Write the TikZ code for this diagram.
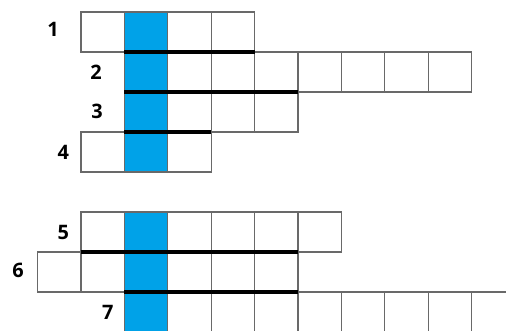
\documentclass[tikz,border=0pt]{standalone}
\usepackage{fontspec}
\setsansfont{Open Sans}
\usepackage{tikz}
\definecolor{cellblue}{RGB}{0,162,232}
\definecolor{gridgray}{RGB}{105,105,105}

\begin{document}
\begin{tikzpicture}[x=1.1483cm, y=1.0583cm,
    cell/.style={draw=gridgray, line width=0.9pt},
    keyline/.style={black, line width=3pt},
    cluenum/.style={font=\sffamily\bfseries\fontsize{15}{17}\selectfont, inner sep=0pt}]
    % Page frame
    \useasboundingbox (-1.866,0.3) rectangle (9.793,-7.975);
    \clip (-1.866,0.3) rectangle (9.793,-7.975);

    % Key column
    \foreach \r in {0,1,2,3,5,6,7} {
        \fill[cellblue] (1,-\r) rectangle ++(1,-1);
    }

    % Rows: row/first/last cell
    \foreach \r/\a/\b in {0/0/3, 1/1/8, 2/1/4, 3/0/2, 5/0/5, 6/-1/4, 7/1/10} {
        \foreach \c in {\a,...,\b} {
            \draw[cell] (\c,-\r) rectangle ++(1,-1);
        }
    }

    % Word borders
    \draw[keyline] (1,-1) -- (4,-1);
    \draw[keyline] (1,-2) -- (5,-2);
    \draw[keyline] (1,-3) -- (3,-3);
    \draw[keyline] (0,-6) -- (5,-6);
    \draw[keyline] (1,-7) -- (5,-7);

    % Clue numbers
    \node[cluenum] (num1) at (-0.645,-0.43) {1};
    \node[cluenum] (num2) at (0.35,-1.5) {2};
    \node[cluenum] (num3) at (0.37,-2.48) {3};
    \node[cluenum] (num4) at (-0.41,-3.5) {4};
    \node[cluenum] (num5) at (-0.41,-5.52) {5};
    \node[cluenum] (num6) at (-1.45,-6.45) {6};
    \node[cluenum] (num7) at (0.62,-7.52) {7};
\end{tikzpicture}
\end{document}
